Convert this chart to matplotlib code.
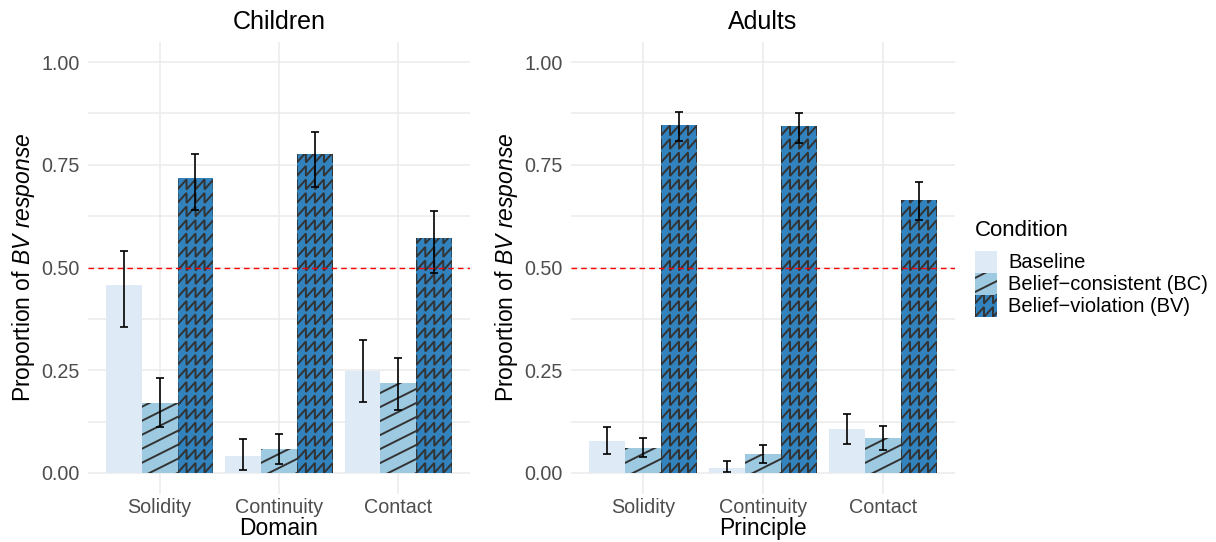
import numpy as np
import matplotlib
matplotlib.use("Agg")
import matplotlib.pyplot as plt
from matplotlib.patches import Rectangle
from matplotlib.lines import Line2D

plt.rcParams['font.family'] = ['Liberation Sans', 'DejaVu Sans']
plt.rcParams['mathtext.fontset'] = 'custom'
plt.rcParams['mathtext.rm'] = 'Liberation Sans'
plt.rcParams['mathtext.it'] = 'Liberation Sans:italic'

# Data
domains = ['Solidity', 'Continuity', 'Contact']
conditions = ['Baseline', 'Belief\u2212consistent (BC)', 'Belief\u2212violation (BV)']
colors = ['#DEEBF7', '#9ECAE1', '#3182BD']

children_mean = [[0.457, 0.041, 0.247],
                 [0.170, 0.058, 0.219],
                 [0.718, 0.776, 0.572]]
children_lo = [[0.356, 0.007, 0.173],
               [0.111, 0.022, 0.152],
               [0.639, 0.697, 0.487]]
children_hi = [[0.540, 0.083, 0.324],
               [0.231, 0.094, 0.279],
               [0.777, 0.830, 0.637]]

adults_mean = [[0.078, 0.012, 0.107],
               [0.061, 0.046, 0.085],
               [0.847, 0.844, 0.664]]
adults_lo = [[0.046, 0.002, 0.071],
             [0.039, 0.025, 0.055],
             [0.808, 0.803, 0.615]]
adults_hi = [[0.111, 0.028, 0.144],
             [0.086, 0.067, 0.114],
             [0.879, 0.877, 0.707]]

W, H, DPI = 1216, 542, 100
fig = plt.figure(figsize=(W / DPI, H / DPI), dpi=DPI)

PAT_COLOR = '#333333'


def pattern_lines(x0, y0, x1, y1, kind):
    """line segments (pixel coords) for a pattern inside a box"""
    segs = []
    if kind == 'stripe':
        slope = 0.5
        gap = 14.0
        w = x1 - x0
        start = y0 - slope * w - gap
        k = 0
        while start + k * gap < y1 + gap:
            b = start + k * gap
            segs.append(([x0 - 2, x1 + 2], [b - 2 * slope, b + slope * (w + 2)]))
            k += 1
    elif kind == 'zigzag':
        p, h, gap = 9.0, 10.0, 13.5
        nx = int((x1 - x0) / p) + 3
        yy = y0 - gap
        while yy < y1 + gap:
            xs, ys = [], []
            for i in range(-1, nx):
                xa = x0 + i * p
                xs += [xa, xa + p, xa + p]
                ys += [yy, yy + h, yy]
            segs.append((xs, ys))
            yy += gap
    return segs


def add_pattern(rect, kind, ax_or_fig):
    bb = rect.get_window_extent()
    for xs, ys in pattern_lines(bb.x0, bb.y0, bb.x1, bb.y1, kind):
        ln = Line2D(xs, ys, color=PAT_COLOR, lw=1.4, transform=None,
                    solid_joinstyle='miter', zorder=3)
        ax_or_fig.add_artist(ln)
        ln.set_clip_path(rect)


def panel(ax, mean, lo, hi, title, xlabel):
    x = np.arange(1, len(domains) + 1)
    ax.set_xlim(0.4, 3.6)
    ax.set_ylim(-0.05, 1.05)
    ax.set_yticks([0, 0.25, 0.5, 0.75, 1.0])
    ax.set_yticklabels(['0.00', '0.25', '0.50', '0.75', '1.00'])
    ax.set_yticks([0.125, 0.375, 0.625, 0.875], minor=True)
    ax.set_xticks(x)
    ax.set_xticklabels(domains)
    ax.grid(True, which='major', color='#EBEBEB', lw=1.1)
    ax.grid(True, which='minor', axis='y', color='#EBEBEB', lw=1.1)
    ax.set_axisbelow(True)
    for s in ax.spines.values():
        s.set_visible(False)
    ax.tick_params(length=0, labelsize=14.2, labelcolor='#4D4D4D')
    ax.tick_params(axis='y', pad=6)
    ax.tick_params(axis='x', pad=3)
    ax.tick_params(which='minor', length=0)
    fig.canvas.draw()
    bw = 0.3
    kinds = [None, 'stripe', 'zigzag']
    for j in range(3):
        bars = ax.bar(x + (j - 1) * bw, mean[j], width=bw, color=colors[j],
                      edgecolor='none', zorder=2)
        if kinds[j]:
            for r in bars:
                add_pattern(r, kinds[j], ax)
    for j in range(3):
        m = np.array(mean[j])
        err = [m - np.array(lo[j]), np.array(hi[j]) - m]
        ax.errorbar(x + (j - 1) * bw, m, yerr=err, fmt='none', ecolor='black',
                    elinewidth=1.2, capsize=2.9, capthick=1.2, zorder=4)
    ax.axhline(0.5, color='#FF0000', lw=1.0, ls=(0, (4, 3)), zorder=5)
    ax.set_title(title, fontsize=18, pad=9)
    ax.set_xlabel(xlabel, fontsize=16.5, labelpad=0)
    ax.set_ylabel(r'Proportion of $\it{BV\ response}$', fontsize=16.5, labelpad=3)


ax1 = fig.add_axes([88 / W, 1 - 493.5 / H, 382 / W, 452 / H])
ax2 = fig.add_axes([571 / W, 1 - 493.5 / H, 384 / W, 452 / H])
fig.canvas.draw()
panel(ax1, children_mean, children_lo, children_hi, 'Children', 'Domain')
panel(ax2, adults_mean, adults_lo, adults_hi, 'Adults', 'Principle')

# legend drawn by hand
fig.text(975 / W, 1 - 230 / H, 'Condition', fontsize=16, va='center', ha='left')
kinds = [None, 'stripe', 'zigzag']
fig.canvas.draw()
for j, lab in enumerate(conditions):
    top = 251 + 22 * j
    r = Rectangle((975 / W, 1 - (top + 22) / H), 22 / W, 22 / H,
                  transform=fig.transFigure, facecolor=colors[j], edgecolor='none')
    fig.add_artist(r)
    if kinds[j]:
        add_pattern(r, kinds[j], fig)
    fig.text(1008 / W, 1 - (top + 11) / H, lab, fontsize=14.5, va='center', ha='left')

fig.savefig('out.png', dpi=DPI)
